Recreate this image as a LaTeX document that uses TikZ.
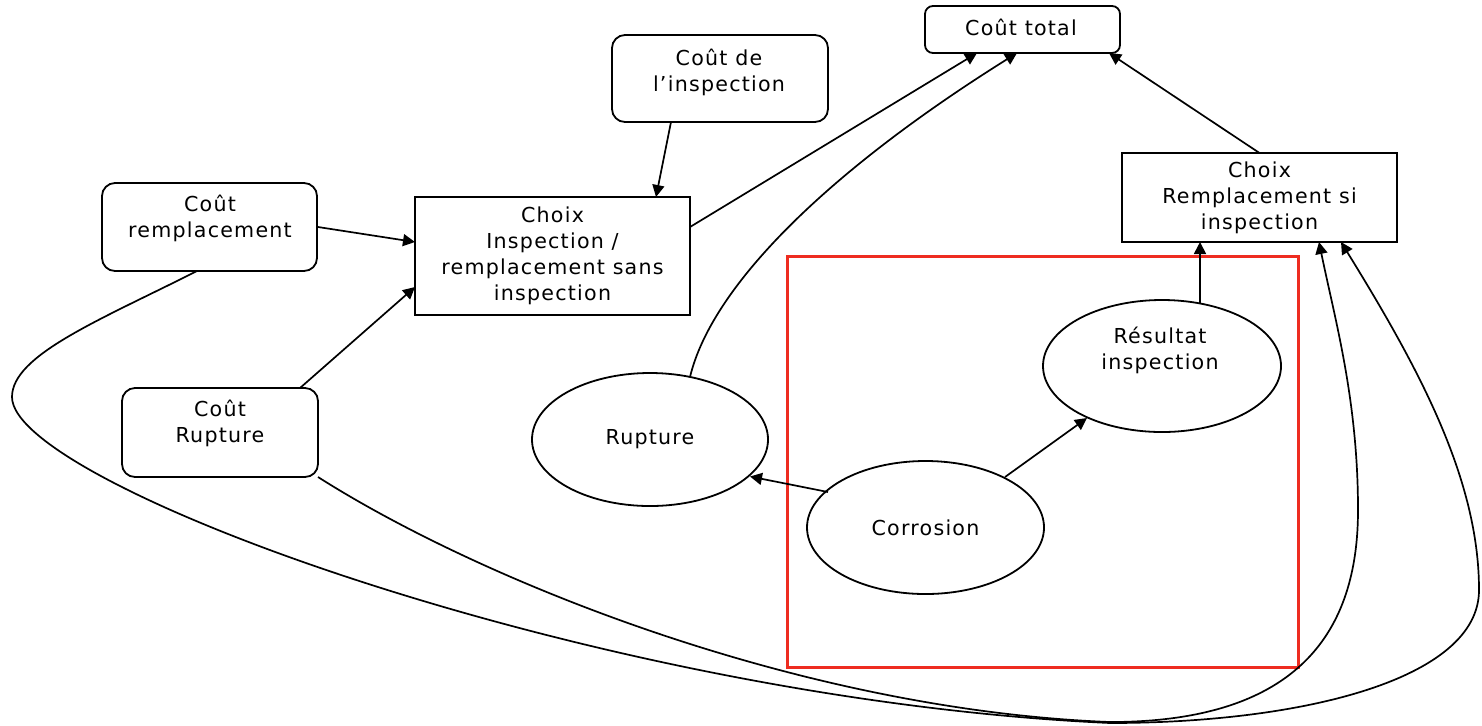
\documentclass[tikz,border=0pt]{standalone}
\usepackage{fontspec}
\setmainfont{DejaVu Sans}[LetterSpace=6]
\usetikzlibrary{arrows.meta,calc,shapes.geometric}
\definecolor{framered}{RGB}{238,44,32}
\begin{document}
\begin{tikzpicture}[x=0.5pt,y=-0.5pt,
  every node/.style={font=\fontsize{10.3}{13}\selectfont, align=center},
  cost/.style={draw, rounded corners=6.5pt, line width=0.9pt, inner sep=0pt},
  decision/.style={draw, line width=0.9pt, inner sep=0pt},
  chance/.style={draw, ellipse, line width=0.9pt, inner sep=0pt},
  txt/.style={inner sep=0pt},
  link/.style={line width=0.85pt, -{Triangle[length=6pt,width=6pt]}}]

\useasboundingbox (0,0) rectangle (1482,725);

% cost nodes (rounded boxes)
\node[cost, rounded corners=4pt, minimum width=97.5pt, minimum height=23.5pt] (total) at (1022.5,29.5) {};
\node[txt] (total-t) at (1021,27) {Coût total};
\node[cost, minimum width=108pt, minimum height=43.5pt] (cinsp) at (720,78.5) {};
\node[txt] (cinsp-t) at (719,72) {Coût de\\l’inspection};
\node[cost, minimum width=107.5pt, minimum height=44pt] (crempl) at (209.5,227) {};
\node[txt] (crempl-t) at (210,218.5) {Coût\\remplacement};
\node[cost, minimum width=98pt, minimum height=44.5pt] (crupt) at (220,432.5) {};
\node[txt] (crupt-t) at (220,423.5) {Coût\\Rupture};

% decision nodes
\node[decision, minimum width=137.5pt, minimum height=59pt] (chx1) at (552.5,256)
  {Choix\\Inspection /\\remplacement sans\\inspection};
\node[decision, minimum width=137.5pt, minimum height=44.5pt] (chx2) at (1259.5,197.5)
  {Choix\\Remplacement si\\inspection};

% chance nodes
\node[chance, minimum width=118pt, minimum height=66.5pt] (rupt) at (650,439.5) {Rupture};
\node[chance, minimum width=118.5pt, minimum height=66.5pt] (corr) at (925.5,527.5) {Corrosion};
\node[chance, minimum width=119pt, minimum height=66pt] (resu) at (1162,366) {};
\node[txt] (resu-t) at (1160,350) {Résultat\\inspection};

% frame around the uncertain part
\draw[framered, line width=1.5pt] (787,256) rectangle (1298,667);

% straight links
\draw[link] ($(cinsp.center)+(-49,43.5)$) -- ($(chx1.center)+(103.5,-59)$);
\draw[link] ($(crempl.center)+(108.5,0)$) -- ($(chx1.center)+(-137.5,-14)$);
\draw[link] ($(crupt.center)+(80,-44.5)$) -- ($(chx1.center)+(-137.5,31)$);
\draw[link] ($(chx1.center)+(137.5,-29)$) -- ($(total.center)+(-45.5,23.5)$);
\draw[link] ($(chx2.center)+(0,-44.5)$) -- ($(total.center)+(86.5,23.5)$);
\draw[link] ($(resu.center)+(38,-62.5)$) -- ($(chx2.center)+(-59.5,44.5)$);
\draw[link] ($(corr.center)+(-97.5,-35.5)$) -- ($(rupt.center)+(100,37)$);
\draw[link] ($(corr.center)+(79.5,-50.5)$) -- ($(resu.center)+(-75,52)$);

% curved links
\draw[link] ($(rupt.center)+(40,-62.5)$) .. controls (712,285) and (830,170) .. ($(total.center)+(-5.5,23.5)$);
\draw[link] ($(crempl.center)+(-12.5,44)$) .. controls (100,320) and (12,355) .. (12,397)
  .. controls (12,485) and (600,700) .. (1110,723)
  .. controls (1300,723) and (1479,680) .. (1479,590)
  .. controls (1479,480) and (1420,370) .. ($(chx2.center)+(81.5,44.5)$);
\draw[link] ($(crupt.center)+(98,44.5)$) .. controls (480,580) and (800,710) .. (1110,722)
  .. controls (1300,722) and (1358,630) .. (1358,510)
  .. controls (1358,400) and (1335,320) .. ($(chx2.center)+(59.5,44.5)$);
\end{tikzpicture}
\end{document}
